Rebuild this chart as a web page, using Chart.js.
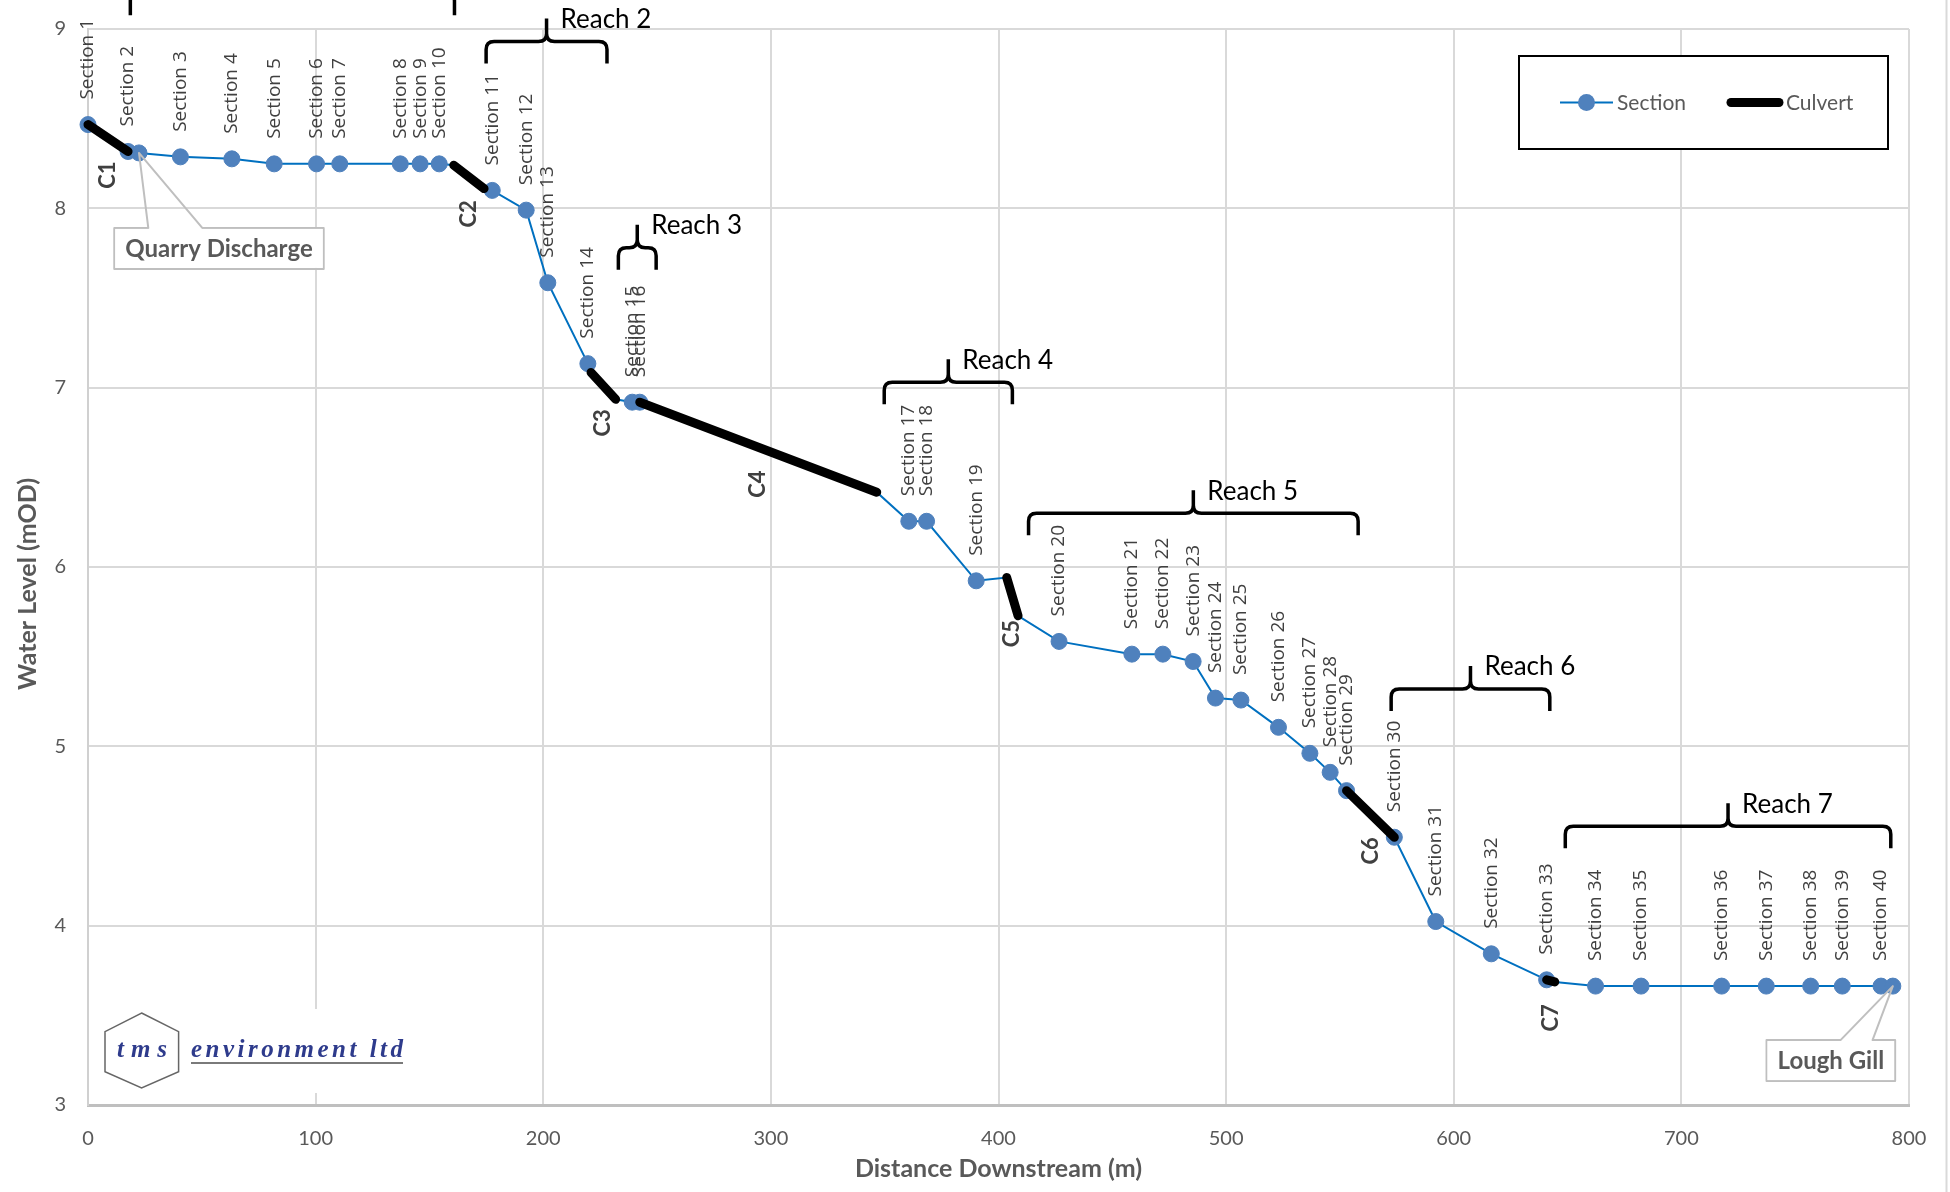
<!DOCTYPE html>
<html>
<head>
<meta charset="utf-8">
<title>Water level profile</title>
<script src="https://cdn.jsdelivr.net/npm/chart.js@4.4.1/dist/chart.umd.min.js"></script>
<style>
  html, body { margin: 0; padding: 0; background: #ffffff; overflow: hidden; }
  canvas { display: block; }
</style>
</head>
<body>
<canvas id="profile" width="1950" height="1192" style="width:1950px;height:1192px"></canvas>
<script>
// ---- Surveyed cross-sections: distance downstream (m) and water level (mOD) ----
const sectionNames = [
  'Section 1', 'Section 2', 'Section 3', 'Section 4', 'Section 5', 'Section 6', 'Section 7',
  'Section 8', 'Section 9', 'Section 10', 'Section 11', 'Section 12', 'Section 13', 'Section 14',
  'Section 15', 'Section 16', 'Section 17', 'Section 18', 'Section 19', 'Section 20', 'Section 21',
  'Section 22', 'Section 23', 'Section 24', 'Section 25', 'Section 26', 'Section 27', 'Section 28',
  'Section 29', 'Section 30', 'Section 31', 'Section 32', 'Section 33', 'Section 34', 'Section 35',
  'Section 36', 'Section 37', 'Section 38', 'Section 39', 'Section 40'
];
const sectionDistance = [
  0, 17.6, 40.6, 63.2, 81.8, 100.4, 110.6, 137.2, 145.9, 154.3,
  177.6, 192.5, 202.0, 219.6, 239.1, 242.4, 360.6, 368.4, 390.2, 426.6,
  458.6, 472.2, 485.5, 495.3, 506.5, 523.0, 536.8, 545.7, 552.9, 573.9,
  592.1, 616.5, 640.8, 662.3, 682.3, 717.7, 737.3, 756.8, 770.7, 787.7
];
const sectionLevel = [
  8.467, 8.317, 8.287, 8.276, 8.248, 8.248, 8.248, 8.248, 8.248, 8.248,
  8.100, 7.990, 7.585, 7.134, 6.919, 6.919, 6.255, 6.255, 5.923, 5.585,
  5.514, 5.514, 5.473, 5.269, 5.258, 5.106, 4.961, 4.855, 4.753, 4.493,
  4.023, 3.843, 3.698, 3.663, 3.663, 3.663, 3.663, 3.663, 3.663, 3.663
];

// ---- Named points on the profile ----
const calloutNames = ['Quarry Discharge', 'Lough Gill'];
const calloutDistance = [22.4, 792.9];
const calloutLevel = [8.309, 3.663];

// ---- Culverts: upstream and downstream ends ----
const culvertNames = ['C1', 'C2', 'C3', 'C4', 'C5', 'C6', 'C7'];
const culvertStartDistance = [0, 160.7, 221.0, 242.4, 403.6, 552.9, 640.8];
const culvertStartLevel = [8.467, 8.240, 7.085, 6.919, 5.941, 4.753, 3.698];
const culvertEndDistance = [17.6, 174.0, 231.8, 346.5, 408.6, 573.9, 644.4];
const culvertEndLevel = [8.317, 8.110, 6.935, 6.417, 5.728, 4.493, 3.686];

// ---- Reaches: extent along the channel and level of the bracket bar ----
const reachNames = ['Reach 1', 'Reach 2', 'Reach 3', 'Reach 4', 'Reach 5', 'Reach 6', 'Reach 7'];
const reachStart = [18.6, 174.9, 233.0, 349.8, 413.2, 572.5, 649.0];
const reachEnd = [161.0, 228.0, 249.6, 406.1, 558.0, 642.2, 792.0];
const reachLevel = [9.20, 8.93, 7.78, 7.03, 6.30, 5.32, 4.554];

// ---- Axis ticks ----
const distanceTicks = [0, 100, 200, 300, 400, 500, 600, 700, 800];
const levelTicks = [3, 4, 5, 6, 7, 8, 9];

// ---- Styling ----
const SANS = 'Lato, "Open Sans", "DejaVu Sans", sans-serif';
const LABEL_FONT = '"Open Sans", Lato, "DejaVu Sans", sans-serif';
const LINE_BLUE = '#0070c0';
const MARKER_BLUE = '#4f81bd';
const TEXT_GREY = '#595959';
const LABEL_DARK = '#404040';
const GRID = '#d9d9d9';

// Water-surface line: sections, named points and culvert ends in downstream order
const profilePoints = [];
sectionDistance.forEach((x, i) => profilePoints.push({ x, y: sectionLevel[i], marker: true }));
calloutDistance.forEach((x, i) => profilePoints.push({ x, y: calloutLevel[i], marker: true }));
culvertNames.forEach((_, i) => {
  profilePoints.push({ x: culvertStartDistance[i], y: culvertStartLevel[i], marker: false });
  profilePoints.push({ x: culvertEndDistance[i], y: culvertEndLevel[i], marker: false });
});
profilePoints.sort((a, b) => a.x - b.x || (b.marker - a.marker));
const sectionLine = profilePoints.filter(p =>
  p.marker || !profilePoints.some(q => q.marker && q.x === p.x && q.y === p.y));

// Culvert segments, separated by gaps
const culvertLine = [];
culvertNames.forEach((_, i) => {
  culvertLine.push({ x: culvertStartDistance[i], y: culvertStartLevel[i] });
  culvertLine.push({ x: culvertEndDistance[i], y: culvertEndLevel[i] });
  culvertLine.push({ x: culvertEndDistance[i], y: null });
});

function drawRotated(ctx, text, x, y, align) {
  ctx.save();
  ctx.translate(x, y);
  ctx.rotate(-Math.PI / 2);
  ctx.textAlign = align;
  ctx.textBaseline = 'middle';
  ctx.fillText(text, 0, 0);
  ctx.restore();
}

function drawSpacedText(ctx, text, x, y, width) {
  const natural = ctx.measureText(text).width;
  if ('letterSpacing' in ctx && text.length > 1) {
    ctx.letterSpacing = Math.max(0, (width - natural) / (text.length - 1)) + 'px';
  }
  ctx.fillText(text, x, y);
  if ('letterSpacing' in ctx) ctx.letterSpacing = '0px';
}

// fixed plot frame: no extra room reserved for tick label overflow
function fixFrame(size, prop) {
  return s => {
    s[prop] = size;
    s.paddingTop = 0; s.paddingBottom = 0; s.paddingLeft = 0; s.paddingRight = 0;
  };
}

const profileDecor = {
  id: 'profileDecor',
  beforeDraw(chart) {
    const { ctx, width, height } = chart;
    ctx.save();
    ctx.fillStyle = '#ffffff';
    ctx.fillRect(0, 0, width, height);
    ctx.strokeStyle = GRID;
    ctx.lineWidth = 2;
    ctx.beginPath();
    ctx.moveTo(1946.5, 0);
    ctx.lineTo(1946.5, height);
    ctx.stroke();

    // vertical axis title
    ctx.fillStyle = TEXT_GREY;
    ctx.font = 'bold 25px ' + SANS;
    drawRotated(ctx, 'Water Level (mOD)', 28, 584, 'center');
    ctx.restore();
  },
  afterDatasetsDraw(chart) {
    const { ctx } = chart;
    const sx = chart.scales.x, sy = chart.scales.y;
    ctx.save();

    // section names above each marker
    ctx.fillStyle = LABEL_DARK;
    ctx.font = '19px ' + LABEL_FONT;
    sectionNames.forEach((name, i) => {
      const x = sx.getPixelForValue(sectionDistance[i]);
      const y = sy.getPixelForValue(sectionLevel[i]);
      drawRotated(ctx, name, x, y - 25, 'left');
    });

    // culvert names below each culvert
    ctx.font = 'bold 22px ' + SANS;
    culvertNames.forEach((name, i) => {
      const x = sx.getPixelForValue((culvertStartDistance[i] + culvertEndDistance[i]) / 2);
      const y = sy.getPixelForValue((culvertStartLevel[i] + culvertEndLevel[i]) / 2);
      drawRotated(ctx, name, x, y + 37, 'center');
    });

    // reach brackets
    ctx.strokeStyle = '#000000';
    ctx.lineWidth = 3.5;
    ctx.lineJoin = 'round';
    ctx.lineCap = 'butt';
    ctx.fillStyle = '#000000';
    ctx.font = '26px ' + SANS;
    ctx.textAlign = 'left';
    ctx.textBaseline = 'middle';
    const r = 8, leg = 22, tick = 23;
    reachNames.forEach((name, i) => {
      const xl = sx.getPixelForValue(reachStart[i]);
      const xr = sx.getPixelForValue(reachEnd[i]);
      const xm = (xl + xr) / 2;
      const yb = sy.getPixelForValue(reachLevel[i]);
      ctx.beginPath();
      ctx.moveTo(xl, yb + leg);
      ctx.lineTo(xl, yb + r);
      ctx.quadraticCurveTo(xl, yb, xl + r, yb);
      ctx.lineTo(xm - r, yb);
      ctx.quadraticCurveTo(xm, yb, xm, yb - r);
      ctx.lineTo(xm, yb - tick);
      ctx.moveTo(xm, yb - r);
      ctx.quadraticCurveTo(xm, yb, xm + r, yb);
      ctx.lineTo(xr - r, yb);
      ctx.quadraticCurveTo(xr, yb, xr, yb + r);
      ctx.lineTo(xr, yb + leg);
      ctx.stroke();
      ctx.fillText(name, xm + 14, yb - tick + 1);
    });

    // callouts for the named points
    const calloutLayout = [
      { dx: 80, dy: 75, wedge: [34, 88] },
      { dx: -62, dy: 54, wedge: [74, 106] }
    ];
    ctx.font = 'bold 24px ' + SANS;
    calloutNames.forEach((name, i) => {
      const px = sx.getPixelForValue(calloutDistance[i]);
      const py = sy.getPixelForValue(calloutLevel[i]);
      const lay = calloutLayout[i];
      const w = ctx.measureText(name).width + 22;
      const h = 41;
      const bx = px + lay.dx - w / 2;
      const by = py + lay.dy;
      ctx.fillStyle = '#ffffff';
      ctx.strokeStyle = '#bfbfbf';
      ctx.lineWidth = 2;
      ctx.beginPath();
      ctx.moveTo(bx + lay.wedge[0], by);
      ctx.lineTo(px, py);
      ctx.lineTo(bx + lay.wedge[1], by);
      ctx.lineTo(bx + w, by);
      ctx.lineTo(bx + w, by + h);
      ctx.lineTo(bx, by + h);
      ctx.lineTo(bx, by);
      ctx.closePath();
      ctx.stroke();
      ctx.fillRect(bx + 1, by + 1, w - 2, h - 2);
      ctx.fillStyle = TEXT_GREY;
      ctx.textAlign = 'center';
      ctx.textBaseline = 'middle';
      ctx.fillText(name, bx + w / 2, by + h / 2 + 1);
    });
    ctx.restore();
  },
  afterDraw(chart) {
    const { ctx } = chart;
    ctx.save();

    // legend
    const sets = chart.data.datasets;
    ctx.fillStyle = '#ffffff';
    ctx.fillRect(1519, 56, 369, 93);
    ctx.strokeStyle = '#000000';
    ctx.lineWidth = 2;
    ctx.strokeRect(1519, 56, 369, 93);
    const ly = 102.5;
    ctx.strokeStyle = LINE_BLUE;
    ctx.lineWidth = 2;
    ctx.beginPath();
    ctx.moveTo(1560, ly);
    ctx.lineTo(1613, ly);
    ctx.stroke();
    ctx.fillStyle = MARKER_BLUE;
    ctx.beginPath();
    ctx.arc(1586.5, ly, 8.5, 0, Math.PI * 2);
    ctx.fill();
    ctx.strokeStyle = '#000000';
    ctx.lineWidth = 9;
    ctx.lineCap = 'round';
    ctx.beginPath();
    ctx.moveTo(1731, ly);
    ctx.lineTo(1779, ly);
    ctx.stroke();
    ctx.fillStyle = TEXT_GREY;
    ctx.font = '21px ' + SANS;
    ctx.textAlign = 'left';
    ctx.textBaseline = 'middle';
    ctx.fillText(sets[1].label, 1617, ly + 1);
    ctx.fillText(sets[0].label, 1786, ly + 1);

    // company logo
    ctx.fillStyle = '#ffffff';
    ctx.fillRect(96, 1009, 320, 84);
    ctx.strokeStyle = '#666666';
    ctx.lineWidth = 1.5;
    ctx.lineCap = 'butt';
    ctx.beginPath();
    ctx.moveTo(141.6, 1013);
    ctx.lineTo(178.6, 1031.7);
    ctx.lineTo(178.6, 1071.7);
    ctx.lineTo(141.6, 1088);
    ctx.lineTo(105, 1071.7);
    ctx.lineTo(105, 1031.7);
    ctx.closePath();
    ctx.stroke();
    ctx.fillStyle = '#2e3b8c';
    ctx.font = 'italic bold 25px "Liberation Serif", "DejaVu Serif", serif';
    ctx.textBaseline = 'alphabetic';
    ctx.textAlign = 'left';
    drawSpacedText(ctx, 'tms', 117, 1057, 50);
    drawSpacedText(ctx, 'environment ltd', 191, 1057, 212);
    ctx.strokeStyle = '#7a7a7a';
    ctx.lineWidth = 2;
    ctx.beginPath();
    ctx.moveTo(191, 1063);
    ctx.lineTo(403, 1063);
    ctx.stroke();
    ctx.restore();
  }
};

function buildChart() {
  return new Chart(document.getElementById('profile'), {
    type: 'line',
    data: {
      datasets: [
        {
          label: 'Culvert',
          data: culvertLine,
          borderColor: '#000000',
          borderWidth: 9,
          borderCapStyle: 'round',
          borderJoinStyle: 'round',
          pointRadius: 0,
          spanGaps: false,
          tension: 0,
          clip: false,
          order: 0
        },
        {
          label: 'Section',
          data: sectionLine,
          borderColor: LINE_BLUE,
          borderWidth: 2,
          tension: 0,
          pointRadius: c => (c.raw && c.raw.marker ? 8 : 0),
          pointBackgroundColor: MARKER_BLUE,
          pointBorderColor: MARKER_BLUE,
          pointBorderWidth: 1,
          clip: false,
          order: 1
        }
      ]
    },
    options: {
      responsive: false,
      devicePixelRatio: 1,
      animation: false,
      events: [],
      layout: { padding: { left: 0, right: 41, top: 29, bottom: 0 } },
      plugins: { legend: { display: false }, tooltip: { enabled: false } },
      scales: {
        x: {
          type: 'linear',
          min: 0,
          max: 800,
          afterBuildTicks: s => { s.ticks = distanceTicks.map(v => ({ value: v })); },
          afterFit: fixFrame(87, 'height'),
          grid: { color: GRID, lineWidth: 2, drawTicks: false },
          border: { display: true, color: '#bfbfbf', width: 3 },
          ticks: { color: TEXT_GREY, font: { family: SANS, size: 20 }, padding: 22, maxRotation: 0 },
          title: {
            display: true,
            text: 'Distance Downstream (m)',
            color: TEXT_GREY,
            font: { family: SANS, size: 25, weight: 'bold' },
            padding: { top: 0, bottom: 8 }
          }
        },
        y: {
          type: 'linear',
          min: 3,
          max: 9,
          afterBuildTicks: s => { s.ticks = levelTicks.map(v => ({ value: v })); },
          afterFit: fixFrame(88, 'width'),
          grid: { color: GRID, lineWidth: 2, drawTicks: false },
          border: { display: true, color: '#d0d0d0', width: 2 },
          ticks: { color: TEXT_GREY, font: { family: SANS, size: 20 }, padding: 22 }
        }
      }
    },
    plugins: [profileDecor]
  });
}

const profileChart = buildChart();
if (document.fonts && document.fonts.ready) {
  document.fonts.ready.then(() => profileChart.draw());
}
</script>
</body>
</html>
